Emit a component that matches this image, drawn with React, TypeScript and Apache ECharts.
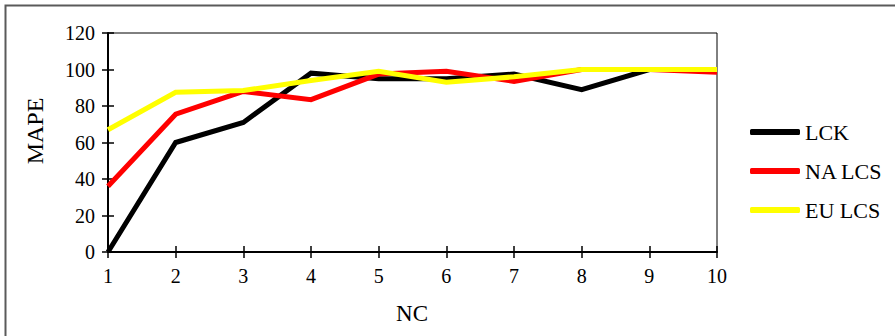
import React, { useEffect, useRef } from "react";
import * as echarts from "echarts";

const ncValues = [1, 2, 3, 4, 5, 6, 7, 8, 9, 10];
const lckValues = [0, 60, 71, 98, 95, 95, 97.5, 89, 100, 100];
const naLcsValues = [36, 75.5, 88, 83.5, 97.5, 99, 93.5, 100, 100, 98.5];
const euLcsValues = [67, 87.5, 88.5, 94, 99, 93, 96, 100, 100, 100];
const seriesNames = ["LCK", "NA LCS", "EU LCS"];
const seriesColors = ["#000000", "#ff0000", "#ffff00"];
const xTitle = "NC";
const yTitle = "MAPE";

const FONT = "'Liberation Serif', 'Times New Roman', serif";

export default function App() {
  const ref = useRef<HTMLDivElement>(null);
  useEffect(() => {
    document.body.style.margin = "0";
    const chart = echarts.init(ref.current!, undefined, { renderer: "svg" });
    const dataSets = [lckValues, naLcsValues, euLcsValues];
    const baseX = {
      type: "value" as const,
      min: 1,
      max: 10,
      interval: 1,
      position: "bottom" as const,
      splitLine: { show: false },
    };
    const baseY = {
      type: "value" as const,
      min: 0,
      max: 120,
      interval: 20,
      position: "left" as const,
      splitLine: { show: false },
    };
    chart.setOption({
      animation: false,
      backgroundColor: "#ffffff",
      textStyle: { fontFamily: FONT },
      graphic: [
        {
          type: "rect",
          shape: { x: 5.5, y: 5.5, width: 900, height: 340 },
          style: { fill: "none", stroke: "#5a5a5a", lineWidth: 2 },
          silent: true,
        },
        {
          type: "text",
          x: 412,
          y: 313,
          style: {
            text: xTitle,
            font: `23px ${FONT}`,
            fill: "#000",
            align: "center",
            verticalAlign: "middle",
          },
          silent: true,
        },
        {
          type: "text",
          x: 35,
          y: 131,
          rotation: Math.PI / 2,
          style: {
            text: yTitle,
            font: `24px ${FONT}`,
            fill: "#000",
            align: "center",
            verticalAlign: "middle",
          },
          silent: true,
        },
      ],
      grid: {
        left: 108,
        right: 178,
        top: 33,
        bottom: 84,
        show: true,
        borderColor: "#000",
        borderWidth: 1,
      },
      legend: {
        orient: "vertical",
        left: 745,
        top: 116,
        itemWidth: 50,
        itemHeight: 6,
        itemGap: 17,
        icon: "roundRect",
        textStyle: { fontFamily: FONT, fontSize: 22, color: "#000" },
        itemStyle: { borderWidth: 0 },
        data: seriesNames.map((n, i) => ({ name: n, itemStyle: { color: seriesColors[i] } })),
      },
      xAxis: [
        {
          ...baseX,
          axisLine: { show: true, lineStyle: { color: "#000", width: 2 } },
          axisTick: { show: true, inside: false, length: 6, lineStyle: { color: "#000", width: 1.5 } },
          axisLabel: { fontFamily: FONT, fontSize: 20, color: "#000", margin: 14 },
        },
        {
          ...baseX,
          axisLine: { show: false },
          axisTick: { show: true, inside: true, length: 6, lineStyle: { color: "#000", width: 1.5 } },
          axisLabel: { show: false },
        },
      ],
      yAxis: [
        {
          ...baseY,
          axisLine: { show: true, lineStyle: { color: "#000", width: 2 } },
          axisTick: { show: true, inside: false, length: 6, lineStyle: { color: "#000", width: 1.5 } },
          axisLabel: { fontFamily: FONT, fontSize: 20, color: "#000", margin: 13 },
        },
        {
          ...baseY,
          axisLine: { show: false },
          axisTick: { show: true, inside: true, length: 6, lineStyle: { color: "#000", width: 1.5 } },
          axisLabel: { show: false },
        },
      ],
      series: dataSets.map((vals, i) => ({
        name: seriesNames[i],
        type: "line",
        xAxisIndex: 0,
        yAxisIndex: 0,
        data: vals.map((v, j) => [ncValues[j], v]),
        showSymbol: false,
        symbol: "none",
        color: seriesColors[i],
        lineStyle: { color: seriesColors[i], width: 5, cap: "butt", join: "miter" },
        z: 2 + i,
      })),
    });
    return () => chart.dispose();
  }, []);
  return <div ref={ref} style={{ width: 895, height: 336 }} />;
}
